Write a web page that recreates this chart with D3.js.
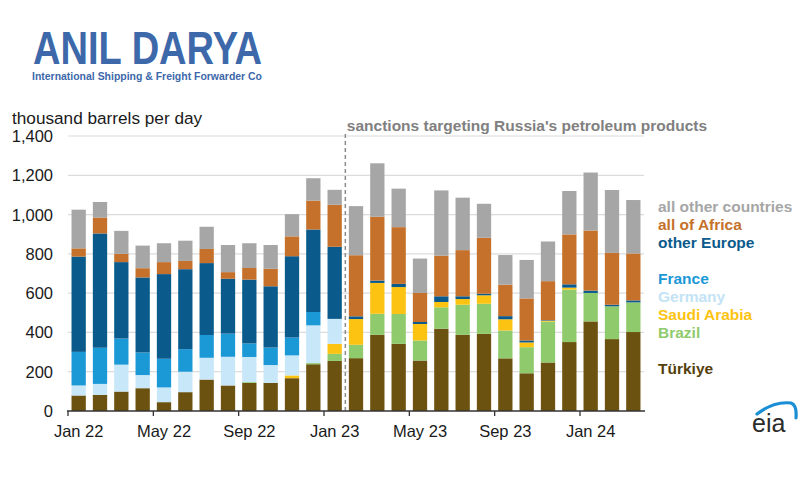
<!DOCTYPE html>
<html>
<head>
<meta charset="utf-8">
<script src="https://cdn.jsdelivr.net/npm/d3@7"></script>
<style>
  html, body { margin: 0; padding: 0; background: #fff; }
  svg { display: block; }
  text { font-family: "Liberation Sans", Arial, sans-serif; }
</style>
</head>
<body>
<svg id="chart" width="800" height="500"></svg>
<script>
// ---- data (thousand barrels per day) ----
const months = ["Jan 22","Feb 22","Mar 22","Apr 22","May 22","Jun 22","Jul 22","Aug 22","Sep 22","Oct 22","Nov 22","Dec 22",
                "Jan 23","Feb 23","Mar 23","Apr 23","May 23","Jun 23","Jul 23","Aug 23","Sep 23","Oct 23","Nov 23","Dec 23",
                "Jan 24","Feb 24","Mar 24"];
const turkiye     = [79, 82, 99, 116, 45, 96, 160, 130, 143, 143, 167, 238, 255, 269, 388, 342, 257, 419, 388, 393, 268, 192, 247, 351, 456, 366, 402];
const brazil      = [0, 0, 0, 0, 0, 0, 0, 0, 4, 0, 0, 6, 36, 68, 107, 152, 102, 109, 153, 153, 142, 133, 208, 267, 145, 167, 151];
const saudiArabia = [0, 0, 0, 0, 0, 0, 0, 0, 0, 0, 14, 0, 51, 131, 157, 137, 84, 27, 29, 43, 57, 24, 4, 10, 0, 0, 0];
const germany     = [51, 56, 137, 67, 75, 104, 111, 146, 128, 91, 102, 192, 127, 0, 0, 0, 0, 0, 0, 0, 0, 0, 0, 0, 0, 0, 0];
const france      = [171, 184, 133, 115, 146, 115, 116, 118, 69, 89, 91, 68, 0, 0, 0, 0, 0, 0, 0, 0, 0, 0, 0, 0, 0, 0, 0];
const otherEurope = [485, 582, 389, 382, 431, 407, 366, 279, 325, 312, 414, 420, 367, 14, 12, 16, 10, 29, 14, 8, 16, 10, 3, 17, 12, 8, 10];
const allAfrica   = [42, 81, 42, 47, 61, 42, 72, 34, 59, 89, 101, 147, 214, 311, 325, 289, 148, 207, 235, 285, 160, 214, 199, 254, 306, 264, 239];
const allOther    = [197, 79, 117, 115, 96, 103, 113, 138, 126, 121, 113, 114, 76, 250, 272, 196, 175, 332, 267, 173, 151, 196, 202, 221, 295, 320, 272];

const seriesNames = ["Türkiye","Brazil","Saudi Arabia","Germany","France","other Europe","all of Africa","all other countries"];
const seriesValues = [turkiye, brazil, saudiArabia, germany, france, otherEurope, allAfrica, allOther];
const yTicks = [0, 200, 400, 600, 800, 1000, 1200, 1400];
const xTickLabels = ["Jan 22","May 22","Sep 22","Jan 23","May 23","Sep 23","Jan 24"];
const sanctionsMonth = "Feb 23";
const yLabel = "thousand barrels per day";
const sanctionsLabel = "sanctions targeting Russia's petroleum products";

// ---- styling ----
const colors = {
  "Türkiye": "#6b5210",
  "Brazil": "#8fca6c",
  "Saudi Arabia": "#fcc312",
  "Germany": "#c8e7f8",
  "France": "#1b98d6",
  "other Europe": "#0b5a8c",
  "all of Africa": "#c5712b",
  "all other countries": "#a6a6a6"
};
const legendTextColors = Object.assign({}, colors, { "Türkiye": "#54400b", "Germany": "#c3e3f5" });

const rows = months.map((m, i) => {
  const r = { month: m };
  seriesNames.forEach((s, k) => r[s] = seriesValues[k][i]);
  return r;
});

const svg = d3.select("#chart");

const x = d3.scaleBand().domain(months).range([68, 644]).paddingInner(0.33).paddingOuter(0.165);
const y = d3.scaleLinear().domain([0, 1400]).range([411, 136]);

// gridlines
svg.append("g")
  .selectAll("line").data(yTicks.filter(d => d > 0)).join("line")
  .attr("x1", 68).attr("x2", 644)
  .attr("y1", d => y(d)).attr("y2", d => y(d))
  .attr("stroke", "#dcdcdc").attr("stroke-width", 1.2);

// y labels
svg.append("g")
  .selectAll("text").data(yTicks).join("text")
  .attr("x", 53).attr("y", d => y(d))
  .attr("dy", "0.36em")
  .attr("text-anchor", "end")
  .attr("font-size", 16.5)
  .attr("fill", "#1a1a1a")
  .text(d => d3.format(",")(d));

svg.append("text")
  .attr("x", 12).attr("y", 124)
  .attr("font-size", 17.2)
  .attr("fill", "#1a1a1a")
  .text(yLabel);

// bars
const stack = d3.stack().keys(seriesNames)(rows);
svg.append("g")
  .selectAll("g").data(stack).join("g")
  .attr("fill", d => colors[d.key])
  .selectAll("rect").data(d => d).join("rect")
  .attr("x", d => x(d.data.month))
  .attr("width", x.bandwidth())
  .attr("y", d => y(d[1]))
  .attr("height", d => Math.max(0, y(d[0]) - y(d[1])));

// sanctions dashed line
const sx = x(sanctionsMonth) - x.step() * x.paddingInner() / 2;
svg.append("line")
  .attr("x1", sx).attr("x2", sx)
  .attr("y1", 134).attr("y2", 411)
  .attr("stroke", "#8c8c8c").attr("stroke-width", 1.5)
  .attr("stroke-dasharray", "4,3");
svg.append("text")
  .attr("x", sx + 1.5).attr("y", 131)
  .attr("font-size", 15.5).attr("font-weight", "bold")
  .attr("fill", "#808080")
  .text(sanctionsLabel);

// x axis
const xAxis = d3.axisBottom(x).tickValues(xTickLabels).tickSize(0).tickPadding(14);
const gx = svg.append("g").attr("transform", "translate(0,411)").call(xAxis);
gx.select(".domain").remove();
gx.selectAll(".tick text").attr("font-size", 16.5).attr("fill", "#1a1a1a")
  .attr("font-family", "'Liberation Sans', Arial, sans-serif");
gx.selectAll(".tick").append("line")
  .attr("x1", -x.step() / 2).attr("x2", -x.step() / 2)
  .attr("y1", 0).attr("y2", 5)
  .attr("stroke", "#333").attr("stroke-width", 1.3);
svg.append("line")
  .attr("x1", 67).attr("x2", 645)
  .attr("y1", 411).attr("y2", 411)
  .attr("stroke", "#333").attr("stroke-width", 1.5);

// legend
const legendOrder = ["all other countries","all of Africa","other Europe","France","Germany","Saudi Arabia","Brazil","Türkiye"];
const legendY = [212, 230, 248, 284, 302, 320, 338, 374];
svg.append("g")
  .selectAll("text").data(legendOrder).join("text")
  .attr("x", 658).attr("y", (d, i) => legendY[i])
  .attr("font-size", 15.5).attr("font-weight", "bold")
  .attr("fill", d => legendTextColors[d])
  .text(d => d);

// eia logo
svg.append("text")
  .attr("x", 752).attr("y", 432)
  .attr("font-size", 25)
  .attr("fill", "#2b2b2b")
  .text("eia");
svg.append("path")
  .attr("d", "M757,414 Q774,401 791,403 Q797,405 796,418")
  .attr("fill", "none").attr("stroke", "#1a8fd3").attr("stroke-width", 3.2).attr("stroke-linecap", "round");

// company logo
svg.append("text")
  .attr("x", 33).attr("y", 64)
  .attr("font-family", "'DejaVu Sans', sans-serif")
  .attr("font-size", 46).attr("font-weight", "bold")
  .attr("fill", "#3d68aa")
  .attr("textLength", 229).attr("lengthAdjust", "spacingAndGlyphs")
  .text("ANIL DARYA");
svg.append("text")
  .attr("x", 32).attr("y", 80)
  .attr("font-family", "'DejaVu Sans', sans-serif")
  .attr("font-size", 10.5).attr("font-weight", "bold")
  .attr("fill", "#3d68aa")
  .attr("textLength", 230).attr("lengthAdjust", "spacingAndGlyphs")
  .text("International Shipping & Freight Forwarder Co");
</script>
</body>
</html>
